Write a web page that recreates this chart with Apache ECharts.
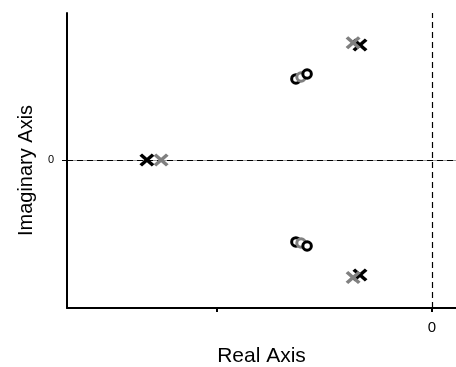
<!DOCTYPE html>
<html>
<head>
<meta charset="utf-8">
<script src="https://cdn.jsdelivr.net/npm/echarts@6/dist/echarts.min.js"></script>
<style>
  html, body { margin: 0; padding: 0; background: #fff; }
  #chart { width: 456px; height: 367px; }
</style>
</head>
<body>
<div id="chart"></div>
<script>
// Pole-zero map of two systems (black and gray)
const realTicks = [-1, 0];
const realTickLabels = [0];
const imagTicks = [0];

const polesBlack = [[-1.326, 0], [-0.335, 0.535], [-0.335, -0.535]];
const polesGray  = [[-1.260, 0], [-0.367, 0.545], [-0.367, -0.547]];
const zerosBlackA = [[-0.633, 0.377], [-0.633, -0.381]];
const zerosGray   = [[-0.609, 0.386], [-0.609, -0.386]];
const zerosBlackB = [[-0.581, 0.400], [-0.581, -0.400]];

const BLACK = '#000000';
const GRAY = '#808080';
// thick filled cross used for poles
const crossPath = 'path://M0,3.5L3.5,0L10,6.5L16.5,0L20,3.5L13.5,10L20,16.5L16.5,20L10,13.5L3.5,20L0,16.5L6.5,10Z';

function poleSeries(data, color) {
  return {
    type: 'scatter', data: data, symbol: crossPath, symbolSize: [15, 13],
    itemStyle: { color: color, opacity: 1 }, silent: true, z: 5
  };
}
function zeroSeries(data, color) {
  return {
    type: 'scatter', data: data, symbol: 'circle', symbolSize: 8.5,
    itemStyle: { color: '#ffffff', borderColor: color, borderWidth: 3, opacity: 1 },
    silent: true, z: 4
  };
}

const chart = echarts.init(document.getElementById('chart'));
chart.setOption({
  animation: false,
  backgroundColor: '#ffffff',
  grid: { left: 67, top: 13, right: 0, bottom: 59, containLabel: false, outerBoundsMode: 'none' },
  xAxis: [{
    type: 'value', min: -1.6977, max: 0.1116,
    name: 'Real Axis', nameLocation: 'middle', nameGap: 38,
    nameTextStyle: { fontFamily: 'Liberation Sans', fontSize: 21, color: '#000' },
    axisLine: { show: true, onZero: false, lineStyle: { color: '#000', width: 2 } },
    axisTick: { show: true, customValues: realTicks, length: 4, lineStyle: { color: '#000', width: 2 } },
    axisLabel: { show: true, customValues: realTickLabels, margin: 12, fontFamily: 'Liberation Sans', fontSize: 15, color: '#000' },
    splitLine: { show: false }
  }, {
    type: 'value', position: 'top', min: -1.6977, max: 0.1116,
    axisLine: { show: true, lineStyle: { color: '#9a9a9a', width: 1 } },
    axisTick: { show: false }, axisLabel: { show: false }, splitLine: { show: false }
  }],
  yAxis: {
    type: 'value', min: -0.6884, max: 0.6837,
    name: 'Imaginary Axis', nameLocation: 'middle', nameGap: 22,
    nameTextStyle: { fontFamily: 'Liberation Sans', fontSize: 20, color: '#000', padding: [0, 20, 0, 0] },
    axisLine: { show: true, onZero: false, lineStyle: { color: '#000', width: 2 } },
    axisTick: { show: true, customValues: imagTicks, length: 5, lineStyle: { color: '#000', width: 1 } },
    axisLabel: { show: true, customValues: imagTicks, margin: 13, fontFamily: 'Liberation Sans', fontSize: 11, color: '#000' },
    splitLine: { show: false }
  },
  series: [
    {
      type: 'scatter', data: [], silent: true,
      markLine: {
        silent: true, symbol: 'none', label: { show: false },
        lineStyle: { color: '#000', type: [6, 4], width: 1.2 },
        data: [{ xAxis: 0 }, { yAxis: 0 }]
      }
    },
    zeroSeries(zerosBlackA, BLACK),
    zeroSeries(zerosGray, GRAY),
    zeroSeries(zerosBlackB, BLACK),
    poleSeries(polesBlack, BLACK),
    poleSeries(polesGray, GRAY)
  ]
});
</script>
</body>
</html>
